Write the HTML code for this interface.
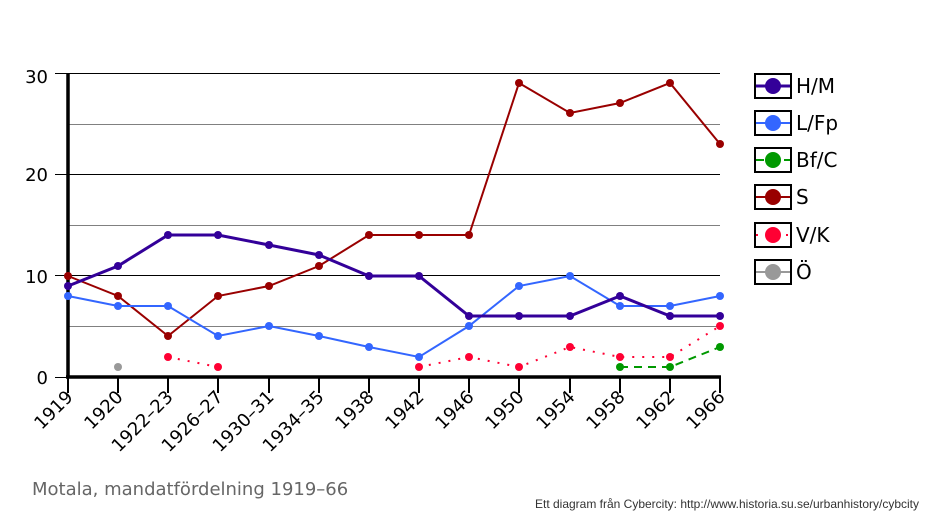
<!DOCTYPE html>
<html><head><meta charset="utf-8"><style>
body{margin:0;background:#fff;}
svg{display:block;font-family:"DejaVu Sans","Liberation Sans",sans-serif;}
</style></head><body>
<svg width="938" height="521" viewBox="0 0 938 521" xmlns="http://www.w3.org/2000/svg">
<g stroke="#808080" stroke-width="1">
<line x1="68" y1="326.5" x2="720" y2="326.5"/><line x1="68" y1="225.5" x2="720" y2="225.5"/><line x1="68" y1="124.5" x2="720" y2="124.5"/>
</g>
<g stroke="#000" stroke-width="1">
<line x1="55" y1="275.5" x2="720" y2="275.5"/><line x1="55" y1="174.5" x2="720" y2="174.5"/><line x1="55" y1="73.5" x2="720" y2="73.5"/>
<line x1="55" y1="377.5" x2="68" y2="377.5"/>
</g>
<g stroke="#000" stroke-width="2">
<line x1="68" y1="377" x2="68" y2="393"/><line x1="118" y1="377" x2="118" y2="393"/><line x1="168" y1="377" x2="168" y2="393"/><line x1="218" y1="377" x2="218" y2="393"/><line x1="269" y1="377" x2="269" y2="393"/><line x1="319" y1="377" x2="319" y2="393"/><line x1="369" y1="377" x2="369" y2="393"/><line x1="419" y1="377" x2="419" y2="393"/><line x1="469" y1="377" x2="469" y2="393"/><line x1="519" y1="377" x2="519" y2="393"/><line x1="570" y1="377" x2="570" y2="393"/><line x1="620" y1="377" x2="620" y2="393"/><line x1="670" y1="377" x2="670" y2="393"/><line x1="720" y1="377" x2="720" y2="393"/>
</g>
<line x1="68" y1="73" x2="68" y2="378" stroke="#000" stroke-width="3.5"/>
<line x1="66" y1="377" x2="721" y2="377" stroke="#000" stroke-width="3.5"/>
<g font-size="18" text-anchor="end" fill="#000">
<text x="48" y="83">30</text><text x="48" y="181">20</text><text x="48" y="283">10</text><text x="48" y="384">0</text>
</g>
<g font-size="18" text-anchor="end" fill="#000">
<text transform="translate(74,398) rotate(-45)">1919</text>
<text transform="translate(124,398) rotate(-45)">1920</text>
<text transform="translate(174,398) rotate(-45)">1922–23</text>
<text transform="translate(224,398) rotate(-45)">1926–27</text>
<text transform="translate(275,398) rotate(-45)">1930–31</text>
<text transform="translate(325,398) rotate(-45)">1934–35</text>
<text transform="translate(375,398) rotate(-45)">1938</text>
<text transform="translate(425,398) rotate(-45)">1942</text>
<text transform="translate(475,398) rotate(-45)">1946</text>
<text transform="translate(525,398) rotate(-45)">1950</text>
<text transform="translate(576,398) rotate(-45)">1954</text>
<text transform="translate(626,398) rotate(-45)">1958</text>
<text transform="translate(676,398) rotate(-45)">1962</text>
<text transform="translate(726,398) rotate(-45)">1966</text>
</g>
<polyline fill="none" stroke="#990000" stroke-width="2" points="68,276 118,296 168,336 218,296 269,286 319,266 369,235 419,235 469,235 519,83 570,113 620,103 670,83 720,144"/>
<polyline fill="none" stroke="#3366ff" stroke-width="2" points="68,296 118,306 168,306 218,336 269,326 319,336 369,347 419,357 469,326 519,286 570,276 620,306 670,306 720,296"/>
<polyline fill="none" stroke="#330099" stroke-width="3" points="68,286 118,266 168,235 218,235 269,245 319,255 369,276 419,276 469,316 519,316 570,316 620,296 670,316 720,316"/>
<polyline fill="none" stroke="#009900" stroke-width="2" stroke-dasharray="8,6" points="620,367 670,367 720,347"/>
<g fill="none" stroke="#ff0033" stroke-width="2" stroke-dasharray="2,8">
<polyline points="168,357 218,367"/>
<polyline points="419,367 469,357 519,367 570,347 620,357 670,357 720,326"/>
</g>
<g fill="#990000"><circle cx="68" cy="276" r="4"/><circle cx="118" cy="296" r="4"/><circle cx="168" cy="336" r="4"/><circle cx="218" cy="296" r="4"/><circle cx="269" cy="286" r="4"/><circle cx="319" cy="266" r="4"/><circle cx="369" cy="235" r="4"/><circle cx="419" cy="235" r="4"/><circle cx="469" cy="235" r="4"/><circle cx="519" cy="83" r="4"/><circle cx="570" cy="113" r="4"/><circle cx="620" cy="103" r="4"/><circle cx="670" cy="83" r="4"/><circle cx="720" cy="144" r="4"/></g>
<g fill="#3366ff"><circle cx="68" cy="296" r="4"/><circle cx="118" cy="306" r="4"/><circle cx="168" cy="306" r="4"/><circle cx="218" cy="336" r="4"/><circle cx="269" cy="326" r="4"/><circle cx="319" cy="336" r="4"/><circle cx="369" cy="347" r="4"/><circle cx="419" cy="357" r="4"/><circle cx="469" cy="326" r="4"/><circle cx="519" cy="286" r="4"/><circle cx="570" cy="276" r="4"/><circle cx="620" cy="306" r="4"/><circle cx="670" cy="306" r="4"/><circle cx="720" cy="296" r="4"/></g>
<g fill="#330099"><circle cx="68" cy="286" r="4"/><circle cx="118" cy="266" r="4"/><circle cx="168" cy="235" r="4"/><circle cx="218" cy="235" r="4"/><circle cx="269" cy="245" r="4"/><circle cx="319" cy="255" r="4"/><circle cx="369" cy="276" r="4"/><circle cx="419" cy="276" r="4"/><circle cx="469" cy="316" r="4"/><circle cx="519" cy="316" r="4"/><circle cx="570" cy="316" r="4"/><circle cx="620" cy="296" r="4"/><circle cx="670" cy="316" r="4"/><circle cx="720" cy="316" r="4"/></g>
<g fill="#009900"><circle cx="620" cy="367" r="4"/><circle cx="670" cy="367" r="4"/><circle cx="720" cy="347" r="4"/></g>
<g fill="#ff0033"><circle cx="168" cy="357" r="4"/><circle cx="218" cy="367" r="4"/><circle cx="419" cy="367" r="4"/><circle cx="469" cy="357" r="4"/><circle cx="519" cy="367" r="4"/><circle cx="570" cy="347" r="4"/><circle cx="620" cy="357" r="4"/><circle cx="670" cy="357" r="4"/><circle cx="720" cy="326" r="4"/></g>
<circle cx="118" cy="367" r="4" fill="#999"/>
<g stroke-width="2">
<rect x="755" y="74" width="36" height="24" fill="#fff" stroke="#000"/>
<line x1="756" y1="86" x2="790" y2="86" stroke="#330099" stroke-width="3"/><circle cx="773" cy="86" r="8" fill="#330099" stroke="none"/>
<rect x="755" y="111" width="36" height="24" fill="#fff" stroke="#000"/>
<line x1="756" y1="123" x2="790" y2="123" stroke="#3366ff"/><circle cx="773" cy="123" r="8" fill="#3366ff" stroke="none"/>
<rect x="755" y="148" width="36" height="24" fill="#fff" stroke="#000"/>
<line x1="756" y1="160" x2="790" y2="160" stroke="#009900" stroke-dasharray="8,6"/><circle cx="773" cy="160" r="8" fill="#009900" stroke="none"/>
<rect x="755" y="185" width="36" height="24" fill="#fff" stroke="#000"/>
<line x1="756" y1="197" x2="790" y2="197" stroke="#990000"/><circle cx="773" cy="197" r="8" fill="#990000" stroke="none"/>
<rect x="755" y="223" width="36" height="24" fill="#fff" stroke="#000"/>
<line x1="756" y1="235" x2="790" y2="235" stroke="#ff0033" stroke-dasharray="2,8"/><circle cx="773" cy="235" r="8" fill="#ff0033" stroke="none"/>
<rect x="755" y="260" width="36" height="24" fill="#fff" stroke="#000"/>
<line x1="756" y1="272" x2="790" y2="272" stroke="#999"/><circle cx="773" cy="272" r="8" fill="#999" stroke="none"/>
</g>
<g font-size="20" fill="#000">
<text x="796" y="93">H/M</text><text x="796" y="130">L/Fp</text><text x="796" y="167">Bf/C</text><text x="796" y="204">S</text><text x="796" y="242">V/K</text><text x="796" y="279">Ö</text>
</g>
<text x="32" y="495" font-size="18" fill="#666">Motala, mandatfördelning 1919–66</text>
<text x="919" y="508" font-size="12" fill="#333" text-anchor="end" font-family="Liberation Sans, sans-serif" textLength="384" lengthAdjust="spacingAndGlyphs">Ett diagram från Cybercity: http://www.historia.su.se/urbanhistory/cybcity</text>
</svg>
</body></html>
